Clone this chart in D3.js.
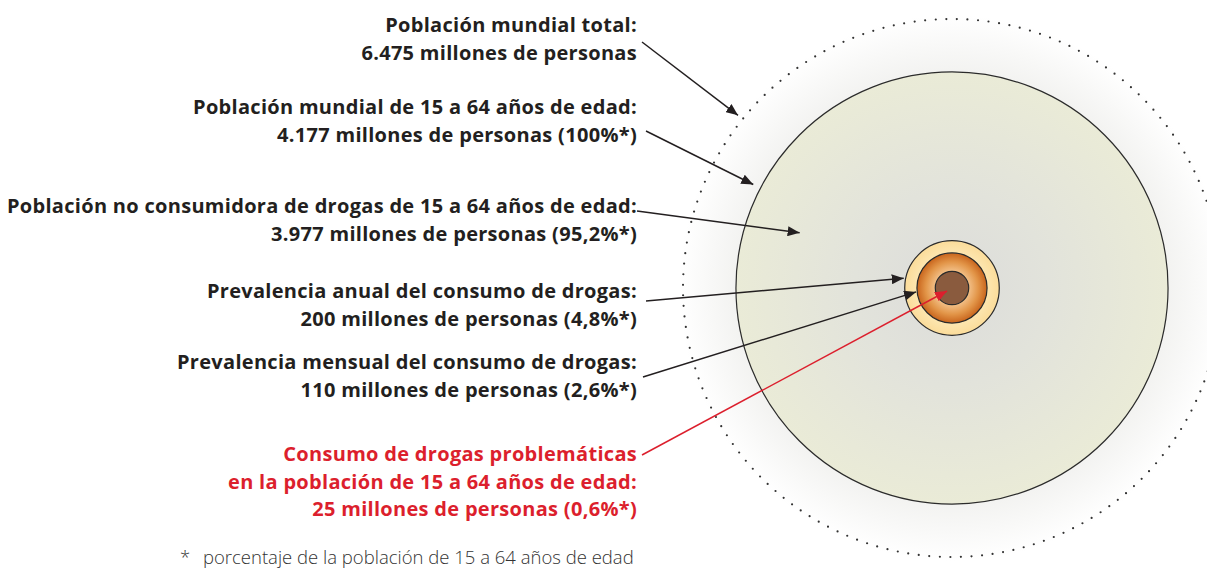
<!DOCTYPE html>
<html>
<head>
<meta charset="utf-8">
<script src="https://cdn.jsdelivr.net/npm/d3@7"></script>
<style>
  body { margin: 0; background: #fff; }
  text { font-family: "Open Sans", "Noto Sans", sans-serif; }
</style>
</head>
<body>
<div id="chart"></div>
<script>
// groups, in millions of people
var titles = [
  ["Población mundial total:"],
  ["Población mundial de 15 a 64 años de edad:"],
  ["Población no consumidora de drogas de 15 a 64 años de edad:"],
  ["Prevalencia anual del consumo de drogas:"],
  ["Prevalencia mensual del consumo de drogas:"],
  ["Consumo de drogas problemáticas", "en la población de 15 a 64 años de edad:"]
];
var values = [6475, 4177, 3977, 200, 110, 25];
var shares = [null, 100, 95.2, 4.8, 2.6, 0.6];   // % of the 15-64 population
var footnote = "porcentaje de la población de 15 a 64 años de edad";

// circles that are drawn (3977 is the big circle minus the rings)
var circleValues = [4177, 200, 110, 25];
var circleFills = ["url(#gBig)", "url(#gYellow)", "url(#gOrange)", "#8a5b3e"];

var width = 1207, height = 570;
var cx = 952, cy = 288;
var labelX = 637;
var firstBaseline = [32, 114, 213, 298, 369, 461];
var lineH = 27.5;
// where each arrow leaves the label
var arrowStart = [[642, 42], [646, 131], [637, 211], [646, 301], [643, 377], [642, 455]];
// where each arrow points: angle round the centre and distance (from the scale)
var r = d3.scaleSqrt().domain([0, 6475]).range([0, 269]);
var arrowTip = [
  {a: 218.9, d: r(6475) + 6},
  {a: 207.5, d: r(4177) + 8},
  {a: 199.9, d: r(4177) * 0.75},
  {a: 191.5, d: r(200) + 2},
  {a: 173.8, d: r(110) + 1},
  {a: 149, d: r(25) * 0.35}
];

var es = d3.formatLocale({decimal: ",", thousands: ".", grouping: [3], currency: ["", " €"]});
var fmtN = es.format(",d"), fmtP = es.format(".1f");

var svg = d3.select("#chart").append("svg")
    .attr("width", width)
    .attr("height", height);

var defs = svg.append("defs");

function radial(id, stops) {
  var g = defs.append("radialGradient").attr("id", id);
  stops.forEach(function(s) {
    g.append("stop").attr("offset", s[0]).attr("stop-color", s[1]);
  });
}
radial("gHalo", [[0, "#ebebe8"], [0.78, "#f2f2f0"], [1, "#ffffff"]]);
radial("gBig", [[0, "#dcdcda"], [0.45, "#e2e3db"], [1, "#eaebd7"]]);
radial("gYellow", [[0.7, "#fde8b4"], [1, "#fbdc9a"]]);
radial("gOrange", [[0.45, "#f4c48e"], [0.75, "#e29548"], [1, "#c8641c"]]);

["black", "red"].forEach(function(k) {
  defs.append("marker")
      .attr("id", "arrow-" + k)
      .attr("viewBox", "0 0 12 10")
      .attr("refX", 12).attr("refY", 5)
      .attr("markerWidth", 12).attr("markerHeight", 10)
      .attr("markerUnits", "userSpaceOnUse")
      .attr("orient", "auto")
    .append("path")
      .attr("d", "M0,0 L12,5 L0,10 Z")
      .attr("fill", k == "red" ? "#dc1f2d" : "#231f20");
});

// halo of the world population
svg.append("circle")
    .attr("cx", cx).attr("cy", cy)
    .attr("r", r(values[0]) + 4)
    .attr("fill", "url(#gHalo)");

svg.append("circle")
    .attr("cx", cx).attr("cy", cy)
    .attr("r", r(values[0]))
    .attr("fill", "none")
    .attr("stroke", "#333")
    .attr("stroke-width", 2.2)
    .attr("stroke-linecap", "round")
    .attr("stroke-dasharray", "0 10.6");

svg.selectAll("circle.group")
    .data(circleValues)
  .enter().append("circle")
    .attr("class", "group")
    .attr("cx", cx).attr("cy", cy)
    .attr("r", function(d) { return r(d); })
    .attr("fill", function(d, i) { return circleFills[i]; })
    .attr("stroke", "#2b2b2b")
    .attr("stroke-width", 1.2);

// labels
var labels = svg.selectAll("text.label")
    .data(titles)
  .enter().append("text")
    .attr("class", "label")
    .attr("text-anchor", "end")
    .attr("font-size", 20)
    .attr("letter-spacing", 0.3)
    .attr("font-weight", "bold")
    .attr("fill", function(d, i) { return i == 5 ? "#dc1f2d" : "#231f20"; });

labels.each(function(lines, i) {
  var s = shares[i];
  var second = fmtN(values[i]) + " millones de personas" +
      (s == null ? "" : " (" + (s == 100 ? "100" : fmtP(s)) + "%*)");
  var all = lines.concat([second]);
  d3.select(this).selectAll("tspan")
      .data(all)
    .enter().append("tspan")
      .attr("x", labelX)
      .attr("y", function(d, j) { return firstBaseline[i] + j * lineH; })
      .text(function(d) { return d; });
});

// arrows
svg.selectAll("line.arrow")
    .data(arrowTip)
  .enter().append("line")
    .attr("class", "arrow")
    .attr("x1", function(d, i) { return arrowStart[i][0]; })
    .attr("y1", function(d, i) { return arrowStart[i][1]; })
    .attr("x2", function(d) { return cx + d.d * Math.cos(d.a * Math.PI / 180); })
    .attr("y2", function(d) { return cy + d.d * Math.sin(d.a * Math.PI / 180); })
    .attr("stroke", function(d, i) { return i == 5 ? "#dc1f2d" : "#231f20"; })
    .attr("stroke-width", 1.5)
    .attr("marker-end", function(d, i) { return i == 5 ? "url(#arrow-red)" : "url(#arrow-black)"; });

// footnote
var fn = svg.append("text")
    .attr("y", 564)
    .attr("font-size", 18.5)
    .attr("font-weight", 300)
    .attr("fill", "#333");
fn.append("tspan").attr("x", 180).text("*");
fn.append("tspan").attr("x", 203).text(footnote);
</script>
</body>
</html>
